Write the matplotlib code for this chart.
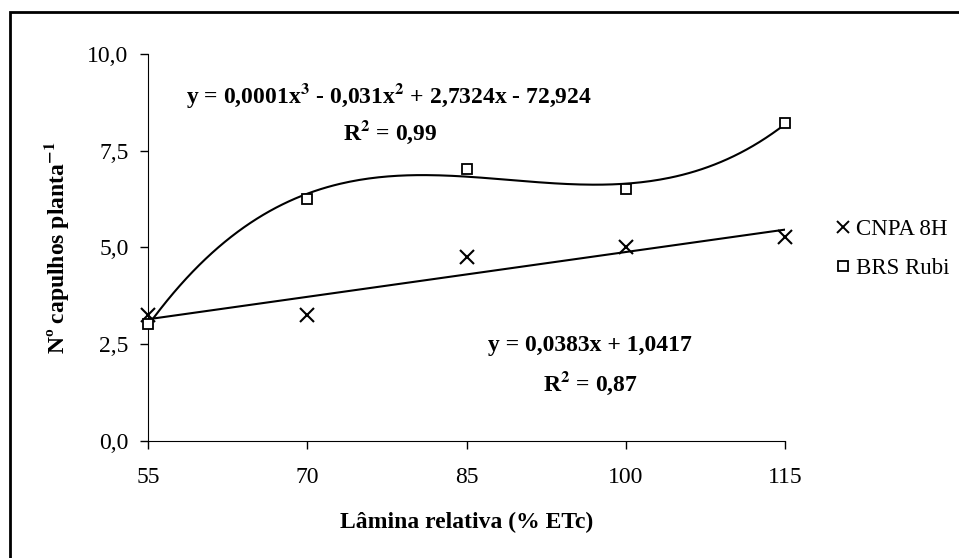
import numpy as np
import matplotlib.pyplot as plt
from matplotlib.lines import Line2D
from matplotlib.patches import Rectangle

plt.rcParams['font.family'] = ['Liberation Serif', 'DejaVu Serif']
plt.rcParams['mathtext.fontset'] = 'stix'

# data
lamina = [55, 70, 85, 100, 115]
cnpa_8h = [3.25, 3.25, 4.75, 5.0, 5.27]
brs_rubi = [3.02, 6.25, 7.04, 6.51, 8.22]

xticks = [55, 70, 85, 100, 115]
yticks = [0.0, 2.5, 5.0, 7.5, 10.0]
ytick_labels = ['0,0', '2,5', '5,0', '7,5', '10,0']

eq_cubic = r'y = 0,0001x$^{\mathbf{3}}$ - 0,031x$^{\mathbf{2}}$ + 2,7324x - 72,924'
r2_cubic = r'R$^{\mathbf{2}}$ = 0,99'
eq_lin = 'y = 0,0383x + 1,0417'
r2_lin = r'R$^{\mathbf{2}}$ = 0,87'

FS = 17
W, H = 959, 558
fig = plt.figure(figsize=(W / 100, H / 100), dpi=100)
ax = fig.add_axes([148 / W, 1 - 441 / H, (785 - 148) / W, (441 - 54) / H])

# excel style trendlines
xs = np.linspace(55, 115, 200)
lin = np.polyfit(lamina, cnpa_8h, 1)
cub = np.polyfit(lamina, brs_rubi, 3)
ax.plot(xs, np.polyval(lin, xs), color='black', lw=1.5, zorder=2)
ax.plot(xs, np.polyval(cub, xs), color='black', lw=1.5, zorder=2)

ax.plot(lamina, cnpa_8h, ls='none', marker='x', ms=10, mew=1.5, color='black',
        clip_on=False, zorder=3)
ax.plot(lamina, brs_rubi, ls='none', marker='s', ms=7.5, mew=1.3, mfc='white', mec='black',
        clip_on=False, zorder=3)

ax.set_xlim(55, 115)
ax.set_ylim(0, 10)
ax.set_xticks(xticks)
ax.set_xticklabels([str(v) for v in xticks])
ax.set_yticks(yticks)
ax.set_yticklabels(ytick_labels)
ax.tick_params(direction='out', length=6, width=1, labelsize=FS)
ax.tick_params(axis='y', pad=8)
ax.tick_params(axis='x', pad=13)
ax.spines['top'].set_visible(False)
ax.spines['right'].set_visible(False)

ax.set_xlabel('Lâmina relativa (% ETc)', fontsize=FS, fontweight='bold', labelpad=17)
ax.set_ylabel(r'Nº capulhos planta$^{\mathbf{-1}}$', fontsize=FS, fontweight='bold', labelpad=12)

# equations
def fig_text(x, y, s):
    fig.text(x / W, 1 - y / H, s, ha='center', va='center', fontsize=FS, fontweight='bold')

fig_text(389, 95, eq_cubic)
fig_text(390, 132, r2_cubic)
fig_text(590, 346, eq_lin)
fig_text(590, 383, r2_lin)

handles = [
    Line2D([], [], ls='none', marker='x', ms=9, mew=1.4, color='black'),
    Line2D([], [], ls='none', marker='s', ms=6.5, mew=1.3, mfc='white', mec='black'),
]
fig.legend(handles, ['CNPA 8H', 'BRS Rubi'], loc='center left',
           bbox_to_anchor=(826 / W, 1 - 249 / H), frameon=False, fontsize=16.5,
           handlelength=0.5, handletextpad=0.3, labelspacing=0.75, borderpad=0)

# outer frame (right and bottom edges fall outside the picture)
fig.patches.append(Rectangle((10 / W, -0.1), 1.2, 1.1 - 12 / H, transform=fig.transFigure,
                             fill=False, lw=2, ec='black'))

fig.savefig('out.png', dpi=100)
